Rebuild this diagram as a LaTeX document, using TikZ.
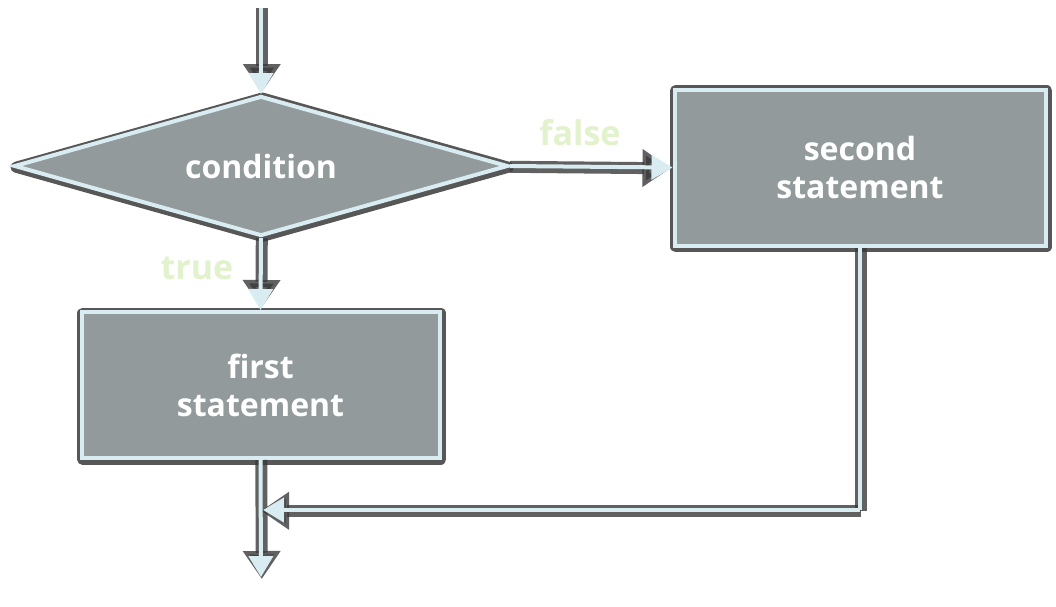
\documentclass[tikz,border=0pt]{standalone}
\usepackage{fontspec}
\setmainfont{Open Sans}
\usetikzlibrary{arrows.meta,shapes.geometric}
\definecolor{boxfill}{HTML}{929A9C}
\definecolor{edgecol}{HTML}{D8ECF2}
\definecolor{shadecol}{HTML}{3A3A3A}
\definecolor{lblcol}{HTML}{E1F2CC}
\begin{document}
\begin{tikzpicture}[x=1pt,y=-1pt,
  boxshadow/.style={preaction={draw=shadecol,line width=11pt,opacity=0.85,line join=round,
      transform canvas={xshift=1.2pt,yshift=-1.2pt}}},
  stmt/.style={rectangle,draw=edgecol,line width=4pt,fill=boxfill,text=white,
    font=\bfseries\fontsize{32}{38}\selectfont,align=center,inner sep=0pt,boxshadow},
  decision/.style={diamond,aspect=3.52,draw=edgecol,line width=4pt,fill=boxfill,text=white,
    font=\bfseries\fontsize{32}{38}\selectfont,inner sep=0pt,boxshadow},
  wireshadow/.style={draw=shadecol,line width=12pt,opacity=0.8,
    -{Triangle[length=28pt,width=36pt]}},
  wireshadowplain/.style={draw=shadecol,line width=12pt,opacity=0.8},
  wire/.style={draw=edgecol,line width=4pt,-{Triangle[length=21pt,width=24pt]}},
  wireplain/.style={draw=edgecol,line width=4pt},
  lbl/.style={text=lblcol,font=\bfseries\fontsize{34}{40}\selectfont,inner sep=0pt}]
\useasboundingbox[fill=white] (0,0) rectangle (1056,606);

\node[decision,minimum width=494pt,minimum height=140pt] (cond) at (261,166) {condition};
\node[stmt,minimum width=358pt,minimum height=146pt] (first) at (260.5,385) {first\\statement};
\node[stmt,minimum width=371pt,minimum height=156pt] (second) at (860,167.5) {second\\statement};

\coordinate (start) at (261,8);
\coordinate (merge) at (263,510);
\coordinate (corner) at (860,510);
\coordinate (finish) at (261,577);

% shadows of connectors
\draw[wireshadow] ([xshift=0.8pt]start) -- ([xshift=0.8pt,yshift=2pt]cond.north);
\draw[wireshadow] ([yshift=-0.8pt]cond.east) -- ([xshift=-2pt,yshift=-0.8pt]second.west);
\draw[wireshadow] ([xshift=0.8pt]cond.south) -- ([xshift=0.8pt,yshift=2pt]first.north);
\draw[wireshadowplain] ([xshift=0.8pt]second.south) -- ([xshift=0.8pt,yshift=-0.8pt]corner);
\draw[wireshadow] ([xshift=0.8pt,yshift=-0.8pt]corner) -- ([xshift=-2pt,yshift=-0.8pt]merge);
\draw[wireshadow] ([xshift=0.8pt]first.south) -- ([xshift=0.8pt,yshift=-2pt]finish);

% connectors
\draw[wire] (start) -- (cond.north);
\draw[wire] (cond.east) -- (second.west);
\draw[wire] (cond.south) -- (first.north);
\draw[wireplain] (second.south) -- (corner);
\draw[wire] (corner) -- (merge);
\draw[wire] (first.south) -- (finish);

\node[lbl] (lfalse) at (580,133) {false};
\node[lbl] (ltrue) at (197,268) {true};
\end{tikzpicture}
\end{document}
